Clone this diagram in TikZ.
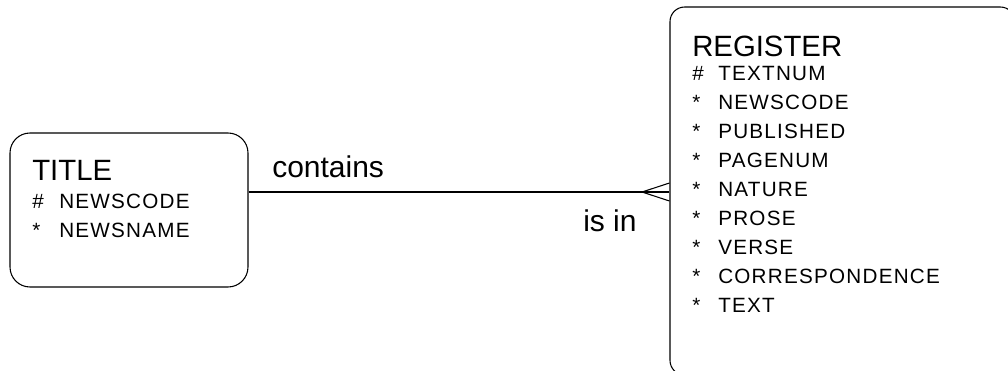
\documentclass[tikz,border=0pt]{standalone}
\usepackage{fontspec}
\setmainfont{Liberation Sans}
\usetikzlibrary{calc,positioning}

\begin{document}
\begin{tikzpicture}[x=0.75pt,y=-0.75pt]
\tikzset{entity/.style={draw,rounded corners=15pt,line width=0.8pt,inner sep=0pt},
ename/.style={anchor=base west,inner sep=0pt,font=\fontsize{22}{26}\selectfont},
attr/.style={anchor=base west,inner sep=0pt,font=\fontsize{15.5}{18}\selectfont\addfontfeature{LetterSpace=6}},
rel/.style={anchor=base west,inner sep=0pt,font=\fontsize{22.5}{27}\selectfont}}
\useasboundingbox (0,0) rectangle (1008,371);
\clip (0,0) rectangle (1008,371);

% entities
\node[entity,minimum width=178.5pt,minimum height=115.5pt] (title) at (129,210){};
\node[entity,rounded corners=11pt,minimum width=258.75pt,minimum height=276pt] (register) at (842.5,191){};

\node[ename] (title-n) at (32,180){TITLE};
\node[attr] (tm1) at (32,208){\#};
\node[attr] (ta1) at (59,208){NEWSCODE};
\node[attr] (tm2) at (32,237){*};
\node[attr] (ta2) at (59,237){NEWSNAME};

\node[ename] (register-n) at (692,56){REGISTER};
\foreach\m/\a[count=\i] in {\#/TEXTNUM,*/NEWSCODE,*/PUBLISHED,*/PAGENUM,*/NATURE,*/PROSE,*/VERSE,*/CORRESPONDENCE,*/TEXT} {
\node[attr] (rm\i) at (692,51+29*\i){\m};
\node[attr] (ra\i) at (718,51+29*\i){\a}; }

% relationship
\coordinate (link) at (0,192);
\coordinate (foot) at (642,192);
\draw[line width=0.8pt] (title.east |- link) -- (register.west |- link);
\draw[line width=0.8pt] ([yshift=6.75pt]register.west |- link) -- (foot) -- ([yshift=-6.75pt]register.west |- link);
\node[rel] (contains) at (272,177){contains};
\node[rel] (isin) at (583,231){is in};

\end{tikzpicture}
\end{document}
